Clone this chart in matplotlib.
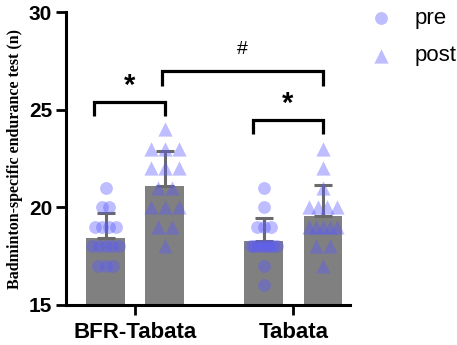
import numpy as np
import matplotlib.pyplot as plt

groups = ['BFR-Tabata', 'Tabata']
pre_mean = [18.43, 18.27]
post_mean = [21.09, 19.55]
pre_sd = [1.28, 1.18]
post_sd = [1.80, 1.59]

# individual scores
bfr_pre = [21, 20, 20, 19, 19, 19, 19, 18, 18, 18, 18, 18, 17, 17, 17]
bfr_post = [24, 23, 23, 23, 22, 22, 22, 21, 21, 20, 20, 20, 19, 19, 18]
tab_pre = [21, 20, 19, 19, 19, 18, 18, 18, 18, 18, 18, 18, 18, 17, 16]
tab_post = [23, 22, 21, 20, 20, 20, 20, 19, 19, 19, 19, 19, 18, 18, 17]

plt.rcParams['font.family'] = ['Liberation Sans', 'DejaVu Sans']

fig = plt.figure(figsize=(4.57, 3.45), dpi=100)
ax = fig.add_axes([0.1444, 0.116, 0.622, 0.849])

x = np.arange(len(groups))
off = 0.187
w = 0.245
bar_col = '#808080'
pt_col = '#5a5aff'


def swarm(vals, center, step, maxw=0.165):
    # spread equal values sideways, like prism does
    xs, ys = [], []
    for v in sorted(set(vals), reverse=True):
        n = vals.count(v)
        s = min(step, maxw / (n - 1)) if n > 1 else 0
        for i in range(n):
            xs.append(center + (i - (n - 1) / 2) * s)
            ys.append(v)
    return xs, ys


ax.bar(x - off, pre_mean, w, color=bar_col, zorder=1)
ax.bar(x + off, post_mean, w, color=bar_col, zorder=1)
ax.errorbar(x - off, pre_mean, yerr=[np.zeros(2), pre_sd], fmt='none',
            ecolor='#6a6a6a', elinewidth=2.2, capsize=6.8, capthick=2.2, zorder=2)
ax.errorbar(x + off, post_mean, yerr=[np.zeros(2), post_sd], fmt='none',
            ecolor='#6a6a6a', elinewidth=2.2, capsize=6.8, capthick=2.2, zorder=2)

for vals, cx in [(bfr_pre, x[0] - off), (tab_pre, x[1] - off)]:
    xs, ys = swarm(vals, cx, 0.045)
    ax.scatter(xs, ys, s=85, marker='o', color=pt_col, alpha=0.4,
               linewidths=0, zorder=3)
for vals, cx in [(bfr_post, x[0] + off), (tab_post, x[1] + off)]:
    xs, ys = swarm(vals, cx, 0.088, maxw=0.175)
    ax.scatter(xs, ys, s=105, marker='^', color=pt_col, alpha=0.4,
               linewidths=0, zorder=3)

# legend
ax.scatter([], [], s=85, marker='o', color=pt_col, alpha=0.4, linewidths=0, label='pre')
ax.scatter([], [], s=105, marker='^', color=pt_col, alpha=0.4, linewidths=0, label='post')
ax.legend(loc='upper left', bbox_to_anchor=(1.0, 1.045), frameon=False,
          fontsize=16, handletextpad=0.5, labelspacing=0.75, borderaxespad=0)


def bracket(x1, x2, y, h, txt, ty, fs=21):
    ax.plot([x1, x1, x2, x2], [y - h, y, y, y - h], color='black', lw=2.3,
            solid_capstyle='butt', solid_joinstyle='miter', clip_on=False, zorder=4)
    ax.text((x1 + x2) / 2, ty, txt, ha='center', va='center', fontsize=fs,
            fontweight='bold' if txt == '*' else 'normal', zorder=4)


bracket(x[0] - off - 0.07, x[0] + off, 25.38, 0.68, '*', 26.2)
bracket(x[1] - off - 0.07, x[1] + off, 24.46, 0.68, '*', 25.3)
bracket(x[0] + off - 0.02, x[1] + off, 27.0, 0.8, '#', 28.1, fs=14)

ax.set_ylim(15, 30)
ax.set_xlim(-0.437, 1.36)
ax.set_yticks([15, 20, 25, 30])
ax.set_xticks(x)
ax.set_xticklabels(groups)
for lab in ax.get_xticklabels():
    lab.set_fontweight('bold')
    lab.set_fontsize(16)
for lab in ax.get_yticklabels():
    lab.set_fontweight('bold')
    lab.set_fontsize(15)
ax.tick_params(axis='both', width=2, length=7, color='black')
ax.tick_params(axis='x', pad=5)
ax.tick_params(axis='y', pad=3)
for s in ['top', 'right']:
    ax.spines[s].set_visible(False)
for s in ['left', 'bottom']:
    ax.spines[s].set_linewidth(2.2)

ax.set_ylabel('Badminton-specific endurance test (n)', family='Liberation Serif',
              fontweight='bold', fontsize=11.5, labelpad=4)

fig.savefig('out.png', dpi=100)
